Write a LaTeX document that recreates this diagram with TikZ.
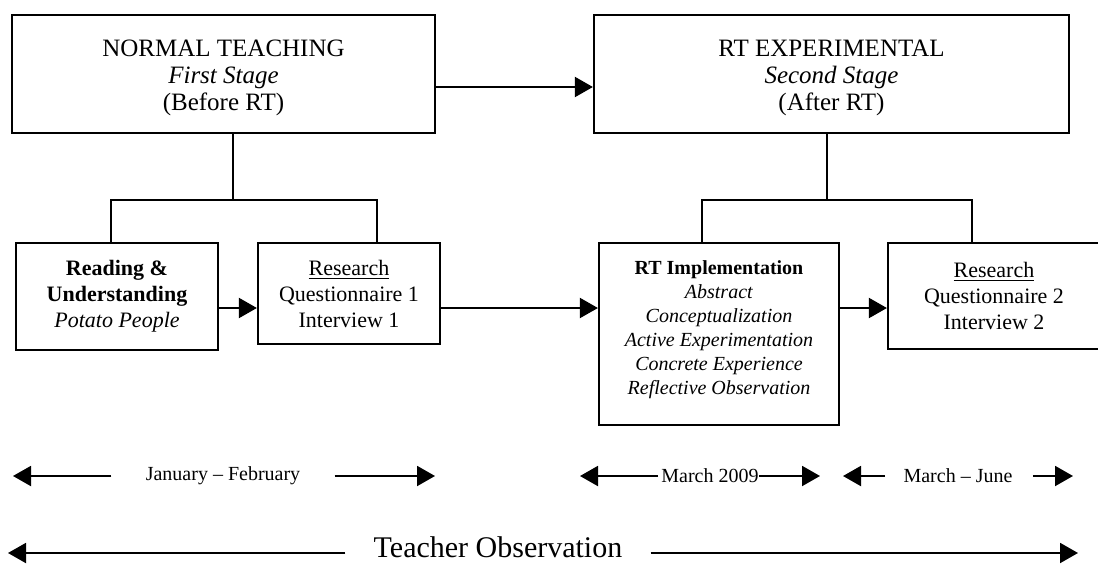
\documentclass[tikz,border=0pt]{standalone}
\usepackage{fontspec}
\setmainfont{Liberation Serif}
\usetikzlibrary{arrows.meta}

\begin{document}
\begin{tikzpicture}[x=0.5pt,y=-0.5pt,
  box/.style={draw, line width=1.1pt, inner sep=0pt, align=center},
  link/.style={line width=1pt},
  arr/.style={line width=1pt, -{Triangle[length=9pt,width=10pt]}},
  lbl/.style={inner sep=0pt, font=\fontsize{10}{12}\selectfont}]
\useasboundingbox (0,0) rectangle (1098,563);
% stages
\node[box, minimum width=211.5pt, minimum height=59pt, font=\fontsize{12.5}{13.5}\selectfont] (normal) at (223.5,74)
  {\mbox{}\\[-1pt]NORMAL TEACHING\\\textit{First Stage}\\(Before RT)};
\node[box, minimum width=237.5pt, minimum height=59pt, font=\fontsize{12.5}{13.5}\selectfont] (exper) at (831.5,74)
  {\mbox{}\\[-1pt]RT EXPERIMENTAL\\\textit{Second Stage}\\(After RT)};
% activities
\node[box, minimum width=101pt, minimum height=53.5pt, font=\fontsize{11}{13}\selectfont] (read) at (117,296.5)
  {\textbf{Reading \&}\\\textbf{Understanding}\\\textit{Potato People}};
\node[box, minimum width=91pt, minimum height=50.5pt, font=\fontsize{11}{13}\selectfont] (res1) at (349,293.5)
  {\underline{Research}\\Questionnaire 1\\Interview 1};
\node[box, minimum width=120pt, minimum height=91pt, font=\fontsize{10}{12}\selectfont] (impl) at (719,334)
  {\textbf{RT Implementation}\\\textit{Abstract}\\\textit{Conceptualization}\\
   \textit{Active Experimentation}\\\textit{Concrete Experience}\\\textit{Reflective Observation}\\[-5.5pt]\mbox{}};
\node[box, minimum width=106pt, minimum height=53pt, font=\fontsize{11}{13}\selectfont] (res2) at (994,296)
  {\underline{Research}\\Questionnaire 2\\Interview 2};

\draw[arr] (normal.east |- 0,87) -- (exper.west |- 0,87);
% brackets
\draw[link] (233,133) -- (233,200);
\draw[link] (read.north -| 111,0) -- (111,200) -- (377,200) -- (res1.north -| 377,0);
\draw[link] (827,133) -- (827,200);
\draw[link] (impl.north -| 702,0) -- (702,200) -- (972,200) -- (res2.north -| 972,0);
\draw[arr] (read.east |- 0,308) -- (res1.west |- 0,308);
\draw[arr] (res1.east |- 0,308) -- (impl.west |- 0,308);
\draw[arr] (impl.east |- 0,308) -- (res2.west |- 0,308);

% time line
\node[lbl] (jan) at (223,476) {January – February};
\node[lbl] (mar) at (710,476) {March 2009};
\node[lbl] (jun) at (958,476) {March – June};
\node[lbl, font=\fontsize{15}{17}\selectfont] (obs) at (498,547) {Teacher Observation};
\coordinate (janL) at (13,476);
\coordinate (janR) at (435,476);
\coordinate (marL) at (580,476);
\coordinate (marR) at (820,476);
\coordinate (junL) at (843,476);
\coordinate (junR) at (1073,476);
\coordinate (obsL) at (8,553);
\coordinate (obsR) at (1078,553);
\draw[arr] ([xshift=-14pt]obs.west |- obsL) -- (obsL);
\draw[arr] ([xshift=14pt]obs.east |- obsR) -- (obsR);
\draw[arr] ([xshift=-17pt]jan.west) -- (janL);
\draw[arr] ([xshift=17pt]jan.east) -- (janR);
\draw[arr] ([xshift=-1.5pt]mar.west) -- (marL);
\draw[arr] (mar.east) -- (marR);
\draw[arr] ([xshift=-9pt]jun.west) -- (junL);
\draw[arr] ([xshift=10pt]jun.east) -- (junR);
\end{tikzpicture}
\end{document}
